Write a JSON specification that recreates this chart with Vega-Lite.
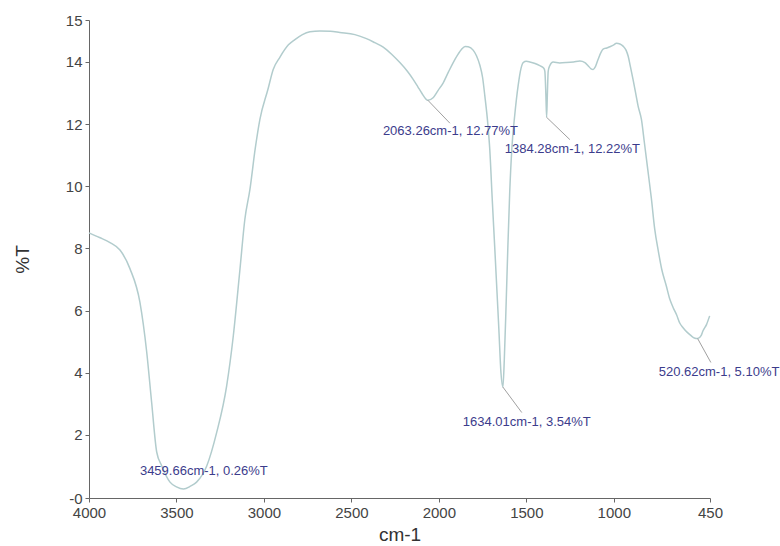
{
  "$schema": "https://vega.github.io/schema/vega-lite/v6.json",
  "width": 621,
  "height": 478,
  "autosize": {"type": "none"},
  "padding": {"left": 89, "top": 20, "right": 70, "bottom": 48},
  "background": "white",
  "config": {"view": {"stroke": null}, "font": "Liberation Sans"},
  "datasets": {
    "spectrum": [
      {"wavenumber": 4000, "T": 8.5}, {"wavenumber": 3940, "T": 8.35}, {"wavenumber": 3880, "T": 8.19},
      {"wavenumber": 3823, "T": 7.95}, {"wavenumber": 3766, "T": 7.35}, {"wavenumber": 3709, "T": 6.27},
      {"wavenumber": 3670, "T": 4.66}, {"wavenumber": 3642, "T": 3.05}, {"wavenumber": 3613, "T": 1.45},
      {"wavenumber": 3584, "T": 1.0}, {"wavenumber": 3537, "T": 0.48}, {"wavenumber": 3500, "T": 0.33},
      {"wavenumber": 3460, "T": 0.26}, {"wavenumber": 3420, "T": 0.35}, {"wavenumber": 3385, "T": 0.48},
      {"wavenumber": 3327, "T": 1.0}, {"wavenumber": 3270, "T": 2.08}, {"wavenumber": 3213, "T": 3.58},
      {"wavenumber": 3175, "T": 5.19}, {"wavenumber": 3137, "T": 7.33}, {"wavenumber": 3109, "T": 8.94},
      {"wavenumber": 3080, "T": 9.9}, {"wavenumber": 3050, "T": 11.2}, {"wavenumber": 3023, "T": 12.15},
      {"wavenumber": 2977, "T": 13.12}, {"wavenumber": 2947, "T": 13.76}, {"wavenumber": 2909, "T": 14.15},
      {"wavenumber": 2860, "T": 14.55}, {"wavenumber": 2823, "T": 14.72}, {"wavenumber": 2780, "T": 14.88},
      {"wavenumber": 2737, "T": 14.97}, {"wavenumber": 2680, "T": 15.0}, {"wavenumber": 2620, "T": 14.99},
      {"wavenumber": 2566, "T": 14.95}, {"wavenumber": 2480, "T": 14.88}, {"wavenumber": 2414, "T": 14.75},
      {"wavenumber": 2366, "T": 14.62}, {"wavenumber": 2318, "T": 14.48}, {"wavenumber": 2270, "T": 14.25},
      {"wavenumber": 2223, "T": 13.98}, {"wavenumber": 2180, "T": 13.7}, {"wavenumber": 2147, "T": 13.44},
      {"wavenumber": 2120, "T": 13.2}, {"wavenumber": 2099, "T": 13.01}, {"wavenumber": 2063, "T": 12.77},
      {"wavenumber": 2033, "T": 12.85}, {"wavenumber": 2005, "T": 13.08}, {"wavenumber": 1975, "T": 13.33},
      {"wavenumber": 1945, "T": 13.68}, {"wavenumber": 1918, "T": 13.98}, {"wavenumber": 1890, "T": 14.25},
      {"wavenumber": 1870, "T": 14.41}, {"wavenumber": 1850, "T": 14.5}, {"wavenumber": 1832, "T": 14.49},
      {"wavenumber": 1804, "T": 14.38}, {"wavenumber": 1785, "T": 14.2}, {"wavenumber": 1766, "T": 13.9},
      {"wavenumber": 1750, "T": 13.5}, {"wavenumber": 1737, "T": 12.9}, {"wavenumber": 1720, "T": 12.0},
      {"wavenumber": 1709, "T": 11.19}, {"wavenumber": 1695, "T": 9.6}, {"wavenumber": 1680, "T": 7.97},
      {"wavenumber": 1665, "T": 6.3}, {"wavenumber": 1657, "T": 5.4}, {"wavenumber": 1645, "T": 4.0},
      {"wavenumber": 1634, "T": 3.54}, {"wavenumber": 1626, "T": 4.4}, {"wavenumber": 1615, "T": 6.3},
      {"wavenumber": 1606, "T": 7.97}, {"wavenumber": 1595, "T": 9.8}, {"wavenumber": 1583, "T": 11.19},
      {"wavenumber": 1566, "T": 12.3}, {"wavenumber": 1547, "T": 13.23}, {"wavenumber": 1530, "T": 13.8},
      {"wavenumber": 1518, "T": 13.98}, {"wavenumber": 1500, "T": 14.02}, {"wavenumber": 1480, "T": 14.0},
      {"wavenumber": 1450, "T": 13.95}, {"wavenumber": 1423, "T": 13.88}, {"wavenumber": 1400, "T": 13.8},
      {"wavenumber": 1394, "T": 13.7}, {"wavenumber": 1388, "T": 12.9}, {"wavenumber": 1384, "T": 12.22},
      {"wavenumber": 1380, "T": 12.9}, {"wavenumber": 1375, "T": 13.7}, {"wavenumber": 1366, "T": 13.88},
      {"wavenumber": 1347, "T": 14.0}, {"wavenumber": 1310, "T": 13.97}, {"wavenumber": 1271, "T": 13.98},
      {"wavenumber": 1230, "T": 14.0}, {"wavenumber": 1194, "T": 14.03}, {"wavenumber": 1165, "T": 13.98},
      {"wavenumber": 1147, "T": 13.88}, {"wavenumber": 1130, "T": 13.78}, {"wavenumber": 1118, "T": 13.76},
      {"wavenumber": 1105, "T": 13.85}, {"wavenumber": 1090, "T": 14.08}, {"wavenumber": 1061, "T": 14.41},
      {"wavenumber": 1040, "T": 14.45}, {"wavenumber": 1023, "T": 14.49}, {"wavenumber": 1000, "T": 14.55},
      {"wavenumber": 985, "T": 14.6}, {"wavenumber": 965, "T": 14.58}, {"wavenumber": 947, "T": 14.51},
      {"wavenumber": 930, "T": 14.38}, {"wavenumber": 918, "T": 14.19}, {"wavenumber": 905, "T": 13.85},
      {"wavenumber": 890, "T": 13.44}, {"wavenumber": 875, "T": 13.0}, {"wavenumber": 861, "T": 12.58},
      {"wavenumber": 842, "T": 12.15}, {"wavenumber": 825, "T": 11.4}, {"wavenumber": 806, "T": 10.55},
      {"wavenumber": 785, "T": 9.6}, {"wavenumber": 766, "T": 8.62}, {"wavenumber": 745, "T": 7.9},
      {"wavenumber": 726, "T": 7.33}, {"wavenumber": 700, "T": 6.8}, {"wavenumber": 680, "T": 6.37},
      {"wavenumber": 661, "T": 6.1}, {"wavenumber": 640, "T": 5.85}, {"wavenumber": 623, "T": 5.6},
      {"wavenumber": 604, "T": 5.45}, {"wavenumber": 580, "T": 5.3}, {"wavenumber": 560, "T": 5.2},
      {"wavenumber": 540, "T": 5.12}, {"wavenumber": 520, "T": 5.1}, {"wavenumber": 500, "T": 5.2},
      {"wavenumber": 490, "T": 5.35}, {"wavenumber": 470, "T": 5.55}, {"wavenumber": 452, "T": 5.83}
    ],
    "peaks": [
      {"label": "3459.66cm-1, 0.26%T", "tx": 3709, "ty": 0.84, "px": 3459.66, "py": 0.26, "lx": 3459.66, "ly": 0.26},
      {"label": "2063.26cm-1, 12.77%T", "tx": 2320, "ty": 11.77, "px": 2063.26, "py": 12.77, "lx": 1937, "ly": 12.03},
      {"label": "1384.28cm-1, 12.22%T", "tx": 1623, "ty": 11.19, "px": 1384.28, "py": 12.22, "lx": 1251, "ly": 11.5},
      {"label": "1634.01cm-1, 3.54%T", "tx": 1863, "ty": 2.41, "px": 1634.01, "py": 3.54, "lx": 1526, "ly": 2.72},
      {"label": "520.62cm-1, 5.10%T", "tx": 743, "ty": 4.02, "px": 520.62, "py": 5.1, "lx": 445, "ly": 4.33}
    ]
  },
  "layer": [
    {
      "data": {"name": "spectrum"},
      "mark": {"type": "line", "color": "#b2cccd", "strokeWidth": 1.5, "interpolate": "monotone", "clip": false},
      "encoding": {
        "x": {
          "field": "wavenumber", "type": "quantitative",
          "scale": {"domain": [4000, 450], "nice": false, "zero": false},
          "axis": {
            "values": [4000, 3500, 3000, 2500, 2000, 1500, 1000, 450],
            "format": "d", "grid": false,
            "domainColor": "#666", "tickColor": "#666", "tickSize": 4,
            "labelFontSize": 15, "labelColor": "#444", "labelPadding": 3,
            "labelFlush": false, "labelOverlap": false,
            "title": "cm-1", "titleFontSize": 19, "titleFontWeight": "normal",
            "titleColor": "#333", "titlePadding": 5
          }
        },
        "y": {
          "field": "T", "type": "quantitative",
          "scale": {"domain": [-0.03, 15.35], "nice": false, "zero": false},
          "axis": {
            "values": [-0.03, 2, 4, 6, 8, 10, 12, 14, 15.35],
            "labelExpr": "datum.value < 0 ? '-0' : (datum.value > 14.5 ? '15' : format(datum.value, 'd'))",
            "grid": false,
            "domainColor": "#666", "tickColor": "#666", "tickSize": 4,
            "labelFontSize": 15, "labelColor": "#444", "labelPadding": 3,
            "labelFlush": false, "labelOverlap": false,
            "title": "%T", "titleFontSize": 19, "titleFontWeight": "normal",
            "titleColor": "#333", "titlePadding": 33
          }
        }
      }
    },
    {
      "data": {"name": "peaks"},
      "mark": {"type": "rule", "color": "#a0a0a0", "strokeWidth": 1, "clip": false},
      "encoding": {
        "x": {"field": "px", "type": "quantitative"},
        "y": {"field": "py", "type": "quantitative"},
        "x2": {"field": "lx"},
        "y2": {"field": "ly"}
      }
    },
    {
      "data": {"name": "peaks"},
      "mark": {"type": "text", "align": "left", "baseline": "middle", "fontSize": 13, "color": "#3c3c8c", "font": "Liberation Sans", "clip": false},
      "encoding": {
        "x": {"field": "tx", "type": "quantitative"},
        "y": {"field": "ty", "type": "quantitative"},
        "text": {"field": "label"}
      }
    }
  ]
}
